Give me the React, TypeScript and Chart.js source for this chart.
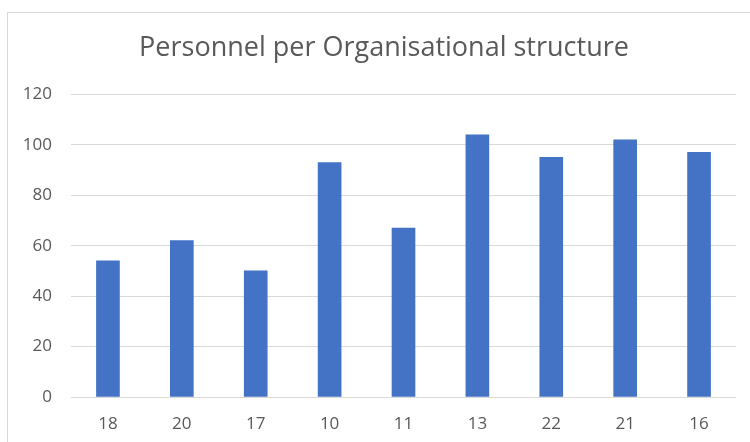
import React, { useEffect, useRef } from "react";
import { Chart, registerables } from "chart.js";

Chart.register(...registerables);

const categories = ["18", "20", "17", "10", "11", "13", "22", "21", "16"];
const personnel = [54, 62, 50, 93, 67, 104, 95, 102, 97];
const titleText = "Personnel per Organisational structure";
const yMin = 0;
const yMax = 120;
const yStep = 20;

const centerTitlePlugin = {
  id: "centerTitle",
  afterLayout(chart: any) {
    const t = chart.titleBlock;
    if (t) {
      t.left = 0;
      t.right = chart.width;
      t.width = chart.width;
    }
  },
};

export default function App() {
  const ref = useRef<HTMLCanvasElement | null>(null);

  useEffect(() => {
    document.body.style.margin = "0";
    document.body.style.overflow = "hidden";
    const ctx = ref.current!.getContext("2d")!;
    const font = "'Open Sans', sans-serif";
    const chart = new Chart(ctx, {
      type: "bar",
      data: {
        labels: categories,
        datasets: [
          {
            label: "Personnel",
            data: personnel,
            backgroundColor: "#4472C4",
            barThickness: 23,
          },
        ],
      },
      plugins: [centerTitlePlugin],
      options: {
        animation: false,
        responsive: false,
        maintainAspectRatio: false,
        layout: { padding: { top: 0, right: 24, left: 0, bottom: 0 } },
        plugins: {
          legend: { display: false },
          tooltip: { enabled: false },
          title: {
            display: true,
            text: titleText,
            color: "#595959",
            font: { family: font, size: 27, weight: "normal" },
            padding: { top: 19, bottom: 30 },
          },
        },
        scales: {
          x: {
            grid: { display: false, drawTicks: false },
            border: { display: false },
            ticks: {
              color: "#595959",
              font: { family: font, size: 17 },
              padding: 17,
            },
            afterFit: (s: any) => {
              s.height = 45;
            },
          },
          y: {
            min: yMin,
            max: yMax,
            grid: { color: "#d9d9d9", lineWidth: 1, drawTicks: false },
            border: { display: false },
            ticks: {
              stepSize: yStep,
              color: "#595959",
              font: { family: font, size: 17 },
              padding: 19,
            },
            afterFit: (s: any) => {
              s.width = 63;
            },
          },
        },
      },
    });
    return () => chart.destroy();
  }, []);

  return (
    <div
      style={{
        position: "fixed",
        left: 0,
        top: 0,
        width: 750,
        height: 442,
        overflow: "hidden",
        background: "#fff",
      }}
    >
      <div
        style={{
          position: "absolute",
          left: 7,
          top: 12,
          width: 754,
          height: 440,
          border: "1px solid #d9d9d9",
          boxSizing: "border-box",
        }}
      >
        <canvas
          ref={ref}
          width={752}
          height={429}
          style={{ display: "block", width: 752, height: 429 }}
        />
      </div>
    </div>
  );
}
